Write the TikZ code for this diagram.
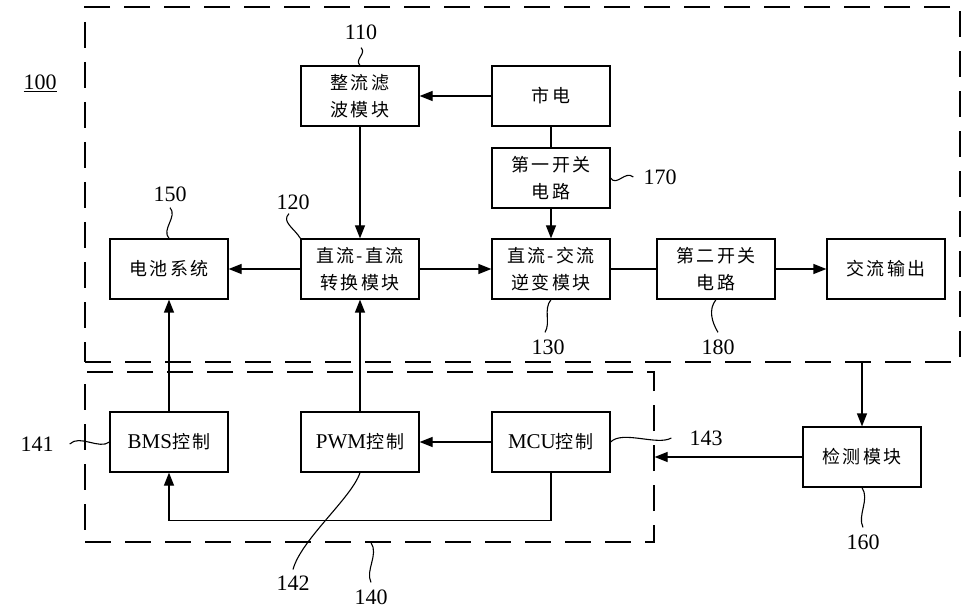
\documentclass[tikz,border=0pt]{standalone}
\usepackage{fontspec}
\setmainfont{Liberation Serif}
\newfontfamily\cjk[LetterSpace=12]{Noto Sans CJK SC}
\usetikzlibrary{arrows.meta}

\begin{document}
\begin{tikzpicture}[
      x=1pt,y=-1pt,
      box/.style={draw,line width=1.2pt,minimum width=118pt,minimum height=60pt,
                  inner sep=0pt,align=center,font=\cjk\fontsize{18}{27}\selectfont},
      dbox/.style={draw,line width=1.2pt,dash pattern=on 26pt off 14pt,inner sep=0pt},
      arr/.style={-{Triangle[length=13pt,width=10pt]},line width=1.2pt},
      ln/.style={line width=1.2pt},
      wig/.style={line width=1.1pt},
      num/.style={font=\fontsize{22}{24}\selectfont,inner sep=2pt}
    ]
    \useasboundingbox (0,0) rectangle (969,612);

    % dashed frames: whole system and control unit
    \node[dbox,minimum width=875pt,minimum height=355pt] (sys)  at (522.5,184.5) {};
    \node[dbox,minimum width=569pt,minimum height=170pt] (ctrl) at (369.5,457) {};

    \node[box] (rect)  at (360, 96) {整流滤\\波模块};
    \node[box] (mains) at (551, 96) {市电};
    \node[box] (sw1)   at (551,178) {第一开关\\电路};
    \node[box] (bat)   at (169,269) {电池系统};
    \node[box] (dcdc)  at (360,269) {直流-直流\\转换模块};
    \node[box] (dcac)  at (551,269) {直流-交流\\逆变模块};
    \node[box] (sw2)   at (716,269) {第二开关\\电路};
    \node[box] (acout) at (886,269) {交流输出};
    \node[box] (bms)   at (169,442) {{\rmfamily\fontsize{21}{27}\selectfont BMS}控制};
    \node[box] (pwm)   at (360,442) {{\rmfamily\fontsize{21}{27}\selectfont PWM}控制};
    \node[box] (mcu)   at (551,442) {{\rmfamily\fontsize{21}{27}\selectfont MCU}控制};
    \node[box] (det)   at (862,457) {检测模块};

    \draw[arr] (mains) -- (rect);
    \draw[ln]  (mains) -- (sw1);
    \draw[arr] (sw1)   -- (dcac);
    \draw[arr] (rect)  -- (dcdc);
    \draw[arr] (dcdc)  -- (bat);
    \draw[arr] (dcdc)  -- (dcac);
    \draw[ln]  (dcac)  -- (sw2);
    \draw[arr] (sw2)   -- (acout);
    \draw[arr] (bms)   -- (bat);
    \draw[arr] (pwm)   -- (dcdc);
    \draw[arr] (mcu)   -- (pwm);
    \draw[arr] (mcu.south) -- ++(0,48) -| (bms.south);
    \draw[arr] (det.north |- sys.south) -- (det);
    \draw[arr] (det) -- (ctrl.east);

    % reference numbers
    \node[num] (n100) at (40,83) {\underline{100}};
    \node[num] (n110) at (361,32) {110};
    \node[num] (n150) at (170,194) {150};
    \node[num] (n120) at (293,202) {120};
    \node[num] (n170) at (660,177) {170};
    \node[num] (n130) at (548,347) {130};
    \node[num] (n180) at (718,347) {180};
    \node[num] (n141) at (37,444) {141};
    \node[num] (n142) at (293,583) {142};
    \node[num] (n140) at (371,597) {140};
    \node[num] (n143) at (706,438) {143};
    \node[num] (n160) at (863,542) {160};

    \draw[wig] ([yshift=-6pt]n110.south) .. controls +(6,6) and +(-6,-6) .. (rect.north);
    \draw[wig] ([yshift=-4pt]n150.south) .. controls +(8,9) and +(-8,-9) .. (bat.north);
    \draw[wig] ([xshift=-4pt,yshift=-2pt]n120.south) .. controls +(-8,8) and +(-6,-10) .. (dcdc.north west);
    \draw[wig] (sw1.east) .. controls +(6,9) and +(-8,-7) .. ([xshift=-8pt]n170.west);
    \draw[wig] (dcac.south) .. controls +(-8,10) and +(6,-10) .. ([xshift=-3pt,yshift=5pt]n130.north);
    \draw[wig] (sw2.south) .. controls +(-8,10) and +(-6,-10) .. ([yshift=5pt]n180.north);
    \draw[wig] ([xshift=14pt]n141.east) .. controls +(10,-10) and +(-10,8) .. (bms.west);
    \draw[wig] (pwm.south) .. controls +(-8,25) and +(8,-30) .. ([yshift=4pt]n142.north);
    \draw[wig] (n140.north |- ctrl.south) .. controls +(8,12) and +(-6,-12) .. ([yshift=5pt]n140.north);
    \draw[wig] (mcu.east) .. controls +(12,-12) and +(-14,8) .. ([xshift=-16pt]n143.west);
    \draw[wig] (det.south) .. controls +(8,12) and +(-6,-12) .. ([yshift=5pt]n160.north);
  \end{tikzpicture}
\end{document}
